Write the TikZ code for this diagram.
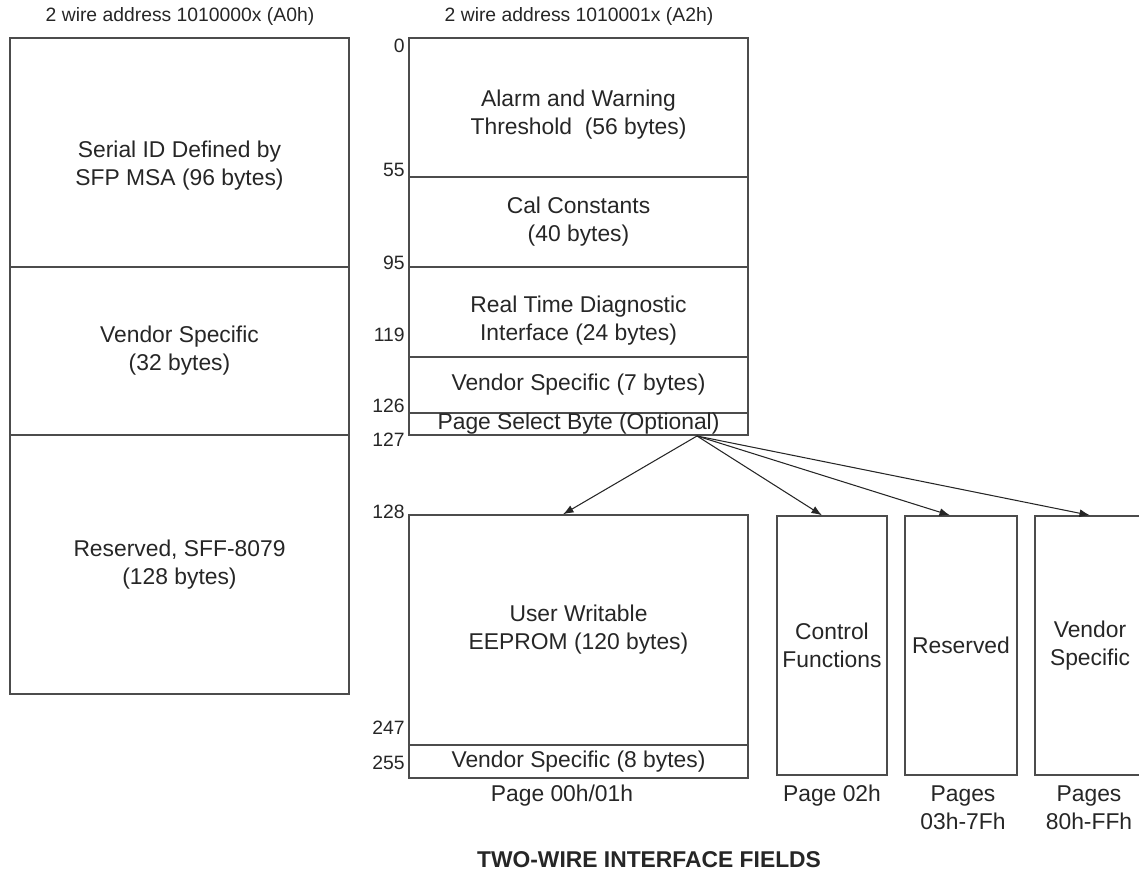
\documentclass[tikz,border=0pt]{standalone}
\usepackage{fontspec}
\setmainfont{Liberation Sans}
\usetikzlibrary{arrows.meta}

\begin{document}
\begin{tikzpicture}[x=0.02cm, y=-0.02cm, >={Latex[length=6pt,width=4.5pt]},
        field/.style={draw=black!70, line width=0.8pt, rectangle, inner sep=0pt, align=center, text=black!85, font=\fontsize{13}{16}\selectfont},
        wide/.style={field, minimum width=6.78cm},
        page/.style={field, minimum height=5.18cm},
        txt/.style={align=center, inner sep=0pt, text=black!85, font=\fontsize{13}{16}\selectfont},
        offs/.style={anchor=east, inner sep=0pt, text=black!85, font=\fontsize{11}{13}\selectfont},
        head/.style={inner sep=0pt, text=black!85, font=\fontsize{11}{13}\selectfont},
        ptr/.style={->, line width=0.6pt, black!85}]
    \useasboundingbox (0,0) rectangle (1139,884);
    \clip (0,0) rectangle (1139,884);

    \node[head] (hdrA) at (180,17) {2 wire address 1010000x (A0h)};
    \node[head] (hdrB) at (579,17) {2 wire address 1010001x (A2h)};

    \node[wide, minimum height=4.58cm, label={[txt, yshift=-0.27cm]center:Serial ID Defined by\\SFP MSA (96 bytes)}] (serial) at (179.5,152.5) {};
    \node[wide, minimum height=3.36cm] (vendA) at (179.5,351) {Vendor Specific\\(32 bytes)};
    \node[wide, minimum height=5.18cm] (resA) at (179.5,564.5) {Reserved, SFF-8079\\(128 bytes)};

    \node[wide, minimum height=2.78cm, label={[txt, yshift=-0.15cm]center:Alarm and Warning\\Threshold~ (56 bytes)}] (alarm) at (578.5,107.5) {};
    \node[wide, minimum height=1.8cm] (cal) at (578.5,222) {Cal Constants\\(40 bytes)};
    \node[wide, minimum height=1.8cm, label={[txt, yshift=-0.18cm]center:Real Time Diagnostic\\Interface (24 bytes)}] (rtd) at (578.5,312) {};
    \node[wide, minimum height=1.12cm] (vendB) at (578.5,385) {Vendor Specific (7 bytes)};
    \node[wide, minimum height=0.44cm, text height=8pt, text depth=2pt] (pagesel) at (578.5,424) {Page Select Byte (Optional)};

    \node[wide, minimum height=4.6cm] (user) at (578.5,630) {User Writable\\EEPROM (120 bytes)};
    \node[wide, minimum height=0.66cm] (vendC) at (578.5,761.5) {Vendor Specific (8 bytes)};

    \node[page, minimum width=2.2cm] (ctrl) at (832,645.5) {Control\\Functions};
    \node[page, minimum width=2.24cm] (resB) at (961,645.5) {Reserved};
    \node[page, minimum width=2.2cm] (vendD) at (1090,645.5) {Vendor\\Specific};

    \node[offs] (n0) at (405,46) {0};
    \node[offs] (n55) at (405,170) {55};
    \node[offs] (n95) at (405,263) {95};
    \node[offs] (n119) at (405,335) {119};
    \node[offs] (n126) at (405,406) {126};
    \node[offs] (n127) at (405,440) {127};
    \node[offs] (n128) at (405,512) {128};
    \node[offs] (n247) at (405,728) {247};
    \node[offs] (n255) at (405,763) {255};

    \node[txt] (capA) at (562,796) {Page 00h/01h};
    \node[txt] (capB) at (832,796) {Page 02h};
    \node[txt] (capC) at (963,808) {Pages\\03h-7Fh};
    \node[txt] (capD) at (1089,808) {Pages\\80h-FFh};

    \node[txt, font=\fontsize{13}{16}\selectfont\bfseries] (title) at (649,860) {TWO-WIRE INTERFACE FIELDS};

    \coordinate (sel) at (697,436);
    \draw[ptr] (sel) -- ([xshift=-0.31cm]user.north);
    \draw[ptr] (sel) -- ([xshift=-0.2cm]ctrl.north);
    \draw[ptr] (sel) -- ([xshift=-0.22cm]resB.north);
    \draw[ptr] (sel) -- (vendD.north);
\end{tikzpicture}
\end{document}
